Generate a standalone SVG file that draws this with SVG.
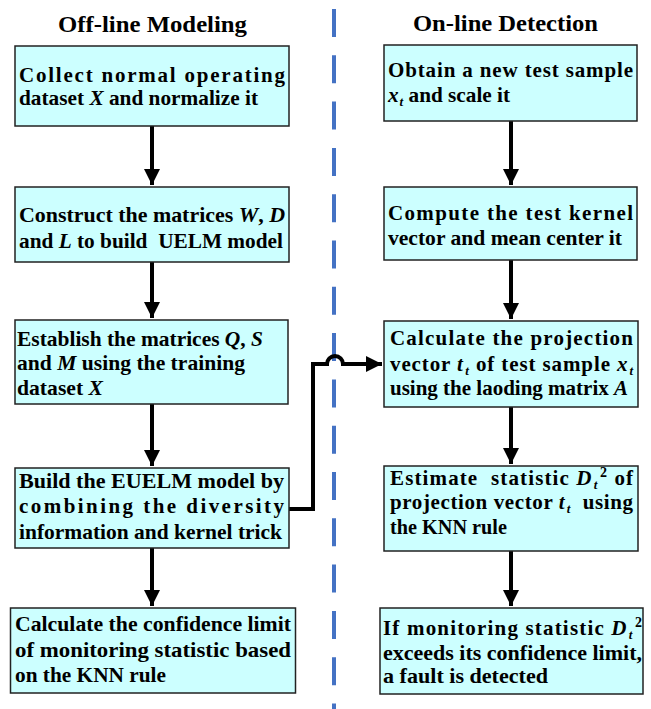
<svg xmlns="http://www.w3.org/2000/svg" width="651" height="709" viewBox="0 0 651 709">
<style>
.box{fill:#CCFFFF;stroke:#222;stroke-width:1.5}
.t{font-family:"Liberation Serif","Times New Roman",serif;font-weight:bold;font-size:21px;fill:#000;white-space:pre}
.h{font-family:"Liberation Serif","Times New Roman",serif;font-weight:bold;font-size:24px;fill:#000}
.i{font-style:italic}
.s{font-size:13px;font-style:italic}
.p{font-size:14px}
.arr{stroke:#000;stroke-width:4;fill:none}
</style>
<defs>
<marker id="ah" markerUnits="userSpaceOnUse" markerWidth="16" markerHeight="16" refX="16" refY="8" orient="auto" viewBox="0 0 16 16">
<path d="M0,0 L16,8 L0,16 Z" fill="#000"/>
</marker>
</defs>
<rect width="651" height="709" fill="#fff"/>
<line x1="334" y1="9" x2="334" y2="709" stroke="#4472C4" stroke-width="4" stroke-dasharray="28 18.3"/>
<text class="h" x="58" y="32" textLength="189" lengthAdjust="spacingAndGlyphs">Off-line Modeling</text>
<text class="h" x="413" y="31" textLength="185" lengthAdjust="spacingAndGlyphs">On-line Detection</text>
<g id="connectors">
<line class="arr" x1="152" y1="126" x2="152" y2="185" marker-end="url(#ah)"/>
<line class="arr" x1="152" y1="262" x2="152" y2="318" marker-end="url(#ah)"/>
<line class="arr" x1="152" y1="404" x2="152" y2="466" marker-end="url(#ah)"/>
<line class="arr" x1="152" y1="548" x2="152" y2="606" marker-end="url(#ah)"/>
<line class="arr" x1="511" y1="121" x2="511" y2="185" marker-end="url(#ah)"/>
<line class="arr" x1="511" y1="260" x2="511" y2="319" marker-end="url(#ah)"/>
<line class="arr" x1="511" y1="407" x2="511" y2="464" marker-end="url(#ah)"/>
<line class="arr" x1="511" y1="551" x2="511" y2="606" marker-end="url(#ah)"/>
<path class="arr" d="M288,509 H313 V364 H327 A8,8 0 0 1 343,364 H382" marker-end="url(#ah)"/>
</g>
<g id="n1"><rect class="box" x="15" y="46" width="274" height="80"/>
<text class="t" x="19" y="82" textLength="266" lengthAdjust="spacing">Collect normal operating</text>
<text class="t" x="19" y="105" textLength="239" lengthAdjust="spacingAndGlyphs">dataset <tspan class="i">X</tspan> and normalize it</text></g>
<g id="n2"><rect class="box" x="15" y="187" width="274" height="75"/>
<text class="t" x="19" y="222" textLength="266" lengthAdjust="spacingAndGlyphs">Construct the matrices <tspan class="i">W</tspan>, <tspan class="i">D</tspan></text>
<text class="t" x="19" y="248" textLength="264" lengthAdjust="spacingAndGlyphs">and <tspan class="i">L</tspan> to build  UELM model</text></g>
<g id="n3"><rect class="box" x="15" y="320" width="273" height="84"/>
<text class="t" x="17" y="346" textLength="246" lengthAdjust="spacingAndGlyphs">Establish the matrices <tspan class="i">Q</tspan>, <tspan class="i">S</tspan></text>
<text class="t" x="17" y="370" textLength="228" lengthAdjust="spacingAndGlyphs">and <tspan class="i">M</tspan> using the training</text>
<text class="t" x="17" y="395" textLength="86" lengthAdjust="spacingAndGlyphs">dataset <tspan class="i">X</tspan></text></g>
<g id="n4"><rect class="box" x="15" y="468" width="274" height="80"/>
<text class="t" x="19" y="488" textLength="265" lengthAdjust="spacingAndGlyphs">Build the EUELM model by</text>
<text class="t" x="19" y="513" textLength="265" lengthAdjust="spacing">combining the diversity</text>
<text class="t" x="19" y="539" textLength="263" lengthAdjust="spacingAndGlyphs">information and kernel trick</text></g>
<g id="n5"><rect class="box" x="10.5" y="608" width="285" height="85"/>
<text class="t" x="15" y="631" textLength="276" lengthAdjust="spacingAndGlyphs">Calculate the confidence limit</text>
<text class="t" x="15" y="657" textLength="276" lengthAdjust="spacingAndGlyphs">of monitoring statistic based</text>
<text class="t" x="15" y="682" textLength="151" lengthAdjust="spacingAndGlyphs">on the KNN rule</text></g>
<g id="n6"><rect class="box" x="384" y="45" width="253" height="76"/>
<text class="t" x="388" y="77" textLength="245" lengthAdjust="spacing">Obtain a new test sample</text>
<text class="t" x="388" y="102" textLength="122" lengthAdjust="spacingAndGlyphs"><tspan class="i">x</tspan><tspan class="s" dx="1" dy="4">t</tspan><tspan dy="-4"> and scale it</tspan></text></g>
<g id="n7"><rect class="box" x="384" y="187" width="253" height="73"/>
<text class="t" x="388" y="220" textLength="245" lengthAdjust="spacing">Compute the test kernel</text>
<text class="t" x="388" y="245" textLength="234" lengthAdjust="spacingAndGlyphs">vector and mean center it</text></g>
<g id="n8"><rect class="box" x="384" y="321" width="254" height="86"/>
<text class="t" x="390" y="345" textLength="243" lengthAdjust="spacing">Calculate the projection</text>
<text class="t" x="390" y="371" textLength="243" lengthAdjust="spacing">vector <tspan class="i">t</tspan><tspan class="s" dx="1.5" dy="4">t</tspan><tspan dy="-4"> of test sample </tspan><tspan class="i">x</tspan><tspan class="s" dx="1" dy="4">t</tspan></text>
<text class="t" x="390" y="395" textLength="238" lengthAdjust="spacingAndGlyphs">using the laoding matrix <tspan class="i">A</tspan></text></g>
<g id="n9"><rect class="box" x="384" y="466" width="254" height="85"/>
<text class="t" x="390" y="485" textLength="243" lengthAdjust="spacing">Estimate  statistic <tspan class="i">D</tspan><tspan class="s" dx="1" dy="4">t</tspan><tspan class="p" dx="1.5" dy="-12">2</tspan><tspan dy="8"> of</tspan></text>
<text class="t" x="390" y="509" textLength="243" lengthAdjust="spacing">projection vector <tspan class="i">t</tspan><tspan class="s" dx="1.5" dy="4">t</tspan><tspan dy="-4">  using</tspan></text>
<text class="t" x="390" y="534" textLength="117" lengthAdjust="spacingAndGlyphs">the KNN rule</text></g>
<g id="n10"><rect class="box" x="380" y="608" width="263" height="86"/>
<text class="t" x="383" y="635" textLength="259" lengthAdjust="spacing">If monitoring statistic <tspan class="i">D</tspan><tspan class="s" dx="1" dy="4">t</tspan><tspan class="p" dx="1.5" dy="-12">2</tspan></text>
<text class="t" x="383" y="660" textLength="259" lengthAdjust="spacingAndGlyphs">exceeds its confidence limit,</text>
<text class="t" x="383" y="683" textLength="165" lengthAdjust="spacingAndGlyphs">a fault is detected</text></g>
</svg>
